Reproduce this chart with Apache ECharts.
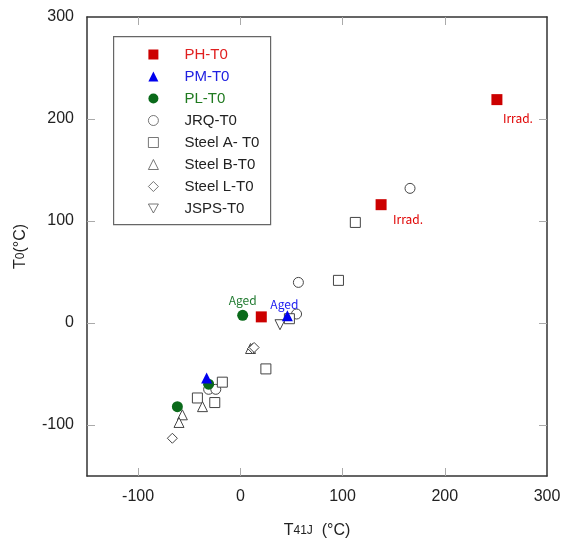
<!DOCTYPE html>
<html>
<head>
<meta charset="utf-8">
<script src="https://cdn.jsdelivr.net/npm/echarts@6/dist/echarts.min.js"></script>
<style>
  html, body { margin: 0; padding: 0; background: #fff; }
  #main { width: 564px; height: 544px; }
</style>
</head>
<body>
<div id="main"></div>
<script>
// values (x = T41J, y = T0)
var phT0 = [[251, 219], [137.7, 116], [20.5, 6]];
var pmT0 = [[46, 7], [-33, -54]];
var plT0 = [[2.3, 7.5], [-31, -60], [-61.6, -82]];
var jrqT0 = [[166, 132], [56.8, 39.8], [55, 8.8], [-31, -65], [-24, -65]];
var steelAT0 = [[112.5, 98.6], [96, 41.8], [48, 4.2], [25, -45], [-17.6, -58], [-42, -73.5], [-25, -78]];
var steelBT0 = [[10, -25], [-37, -82], [-56.7, -90], [-60, -97.5]];
var steelLT0 = [[12, -25], [13.5, -24], [-66.5, -113]];
var jspsT0 = [[38.8, -1.7]];

var names = ['PH-T0', 'PM-T0', 'PL-T0', 'JRQ-T0', 'Steel A- T0', 'Steel B-T0', 'Steel L-T0', 'JSPS-T0'];
var tickValues = [-100, 0, 100, 200, 300];

var font = '"Liberation Sans", Arial, sans-serif';
var noteFont = '"Noto Sans CJK JP", sans-serif';
var downTri = 'path://M0,0 L10,0 L5,9 Z';

function hollow(name, symbol, data) {
    return {
        name: name, type: 'scatter', symbol: symbol, symbolSize: 10, data: data,
        itemStyle: { color: '#fff', borderColor: '#444', borderWidth: 1, opacity: 1 }
    };
}

// PH points: the two irradiated ones carry a note
var phData = phT0.map(function (p, i) {
    var item = { value: p };
    if (i < 2) {
        item.label = {
            show: true, formatter: 'Irrad.', position: 'inside', align: 'left', verticalAlign: 'middle',
            offset: i === 0 ? [6, 19] : [12, 15], color: '#e00000', fontSize: 12, fontFamily: noteFont
        };
    }
    return item;
});
var pmData = pmT0.map(function (p, i) {
    var item = { value: p };
    if (i === 0) item.label = { show: true, formatter: 'Aged', position: 'top', distance: 0, offset: [-3, 0], color: '#2020f0', fontSize: 12, fontFamily: noteFont };
    return item;
});
var plData = plT0.map(function (p, i) {
    var item = { value: p };
    if (i === 0) item.label = { show: true, formatter: 'Aged', position: 'top', distance: 3, color: '#207a30', fontSize: 12, fontFamily: noteFont };
    return item;
});

var legendColors = ['#e02020', '#2020e0', '#207a20', '#222', '#222', '#222', '#222', '#222'];

var axisCommon = {
    min: -150, max: 300,
    axisLine: { onZero: false, lineStyle: { color: '#333', width: 1.5 } },
    axisTick: { inside: true, length: 8, lineStyle: { color: '#aaa' }, customValues: tickValues.slice(0, 4) },
    splitLine: { show: false }
};

var chart = echarts.init(document.getElementById('main'));
var option = {
    animation: false,
    grid: { left: 87, right: 17, top: 17, bottom: 67 },
    graphic: [{
        type: 'rect', left: 113, top: 36, z: 1,
        shape: { width: 157, height: 188 },
        style: { fill: '#fff', stroke: '#666', lineWidth: 1.2 }
    }],
    legend: {
        orient: 'vertical', left: 143, top: 42, z: 5,
        itemWidth: 10, itemHeight: 10, itemGap: 7,
        textStyle: { fontFamily: font, fontSize: 15, lineHeight: 14, padding: [0, 0, 0, 21] },
        data: names.map(function (n, i) {
            var item = { name: n, textStyle: { color: legendColors[i] } };
            if (i > 2) item.itemStyle = { borderColor: '#555', borderWidth: 0.8 };
            return item;
        })
    },
    xAxis: [
        Object.assign({}, axisCommon, {
            type: 'value', position: 'bottom',
            name: 'T{s|41J}  (°C)', nameLocation: 'middle', nameGap: 47,
            nameTextStyle: { fontFamily: font, fontSize: 16, color: '#222', rich: { s: { fontSize: 12, fontFamily: font, color: '#222' } } },
            axisLabel: { fontFamily: font, fontSize: 16, color: '#222', margin: 13, customValues: tickValues }
        }),
        Object.assign({}, axisCommon, { type: 'value', position: 'top', axisLabel: { show: false } })
    ],
    yAxis: [
        Object.assign({}, axisCommon, {
            type: 'value', position: 'left',
            name: 'T{s|0}(°C)', nameLocation: 'middle', nameGap: 58, nameRotate: 90,
            nameTextStyle: { fontFamily: font, fontSize: 16, color: '#222', rich: { s: { fontSize: 12, fontFamily: font, color: '#222' } } },
            axisLabel: { fontFamily: font, fontSize: 16, color: '#222', margin: 13, customValues: tickValues }
        }),
        Object.assign({}, axisCommon, { type: 'value', position: 'right', axisLabel: { show: false } })
    ],
    series: [
        hollow(names[3], 'circle', jrqT0),
        hollow(names[4], 'rect', steelAT0),
        hollow(names[5], 'triangle', steelBT0),
        hollow(names[6], 'diamond', steelLT0),
        hollow(names[7], downTri, jspsT0),
        { name: names[2], type: 'scatter', symbol: 'circle', symbolSize: 11, data: plData, itemStyle: { color: '#0a6a1a', opacity: 1 } },
        { name: names[0], type: 'scatter', symbol: 'rect', symbolSize: 11, data: phData, itemStyle: { color: '#cc0000', opacity: 1 } },
        { name: names[1], type: 'scatter', symbol: 'triangle', symbolSize: 11, data: pmData, itemStyle: { color: '#0000ee', opacity: 1 } }
    ]
};
chart.setOption(option);
</script>
</body>
</html>
